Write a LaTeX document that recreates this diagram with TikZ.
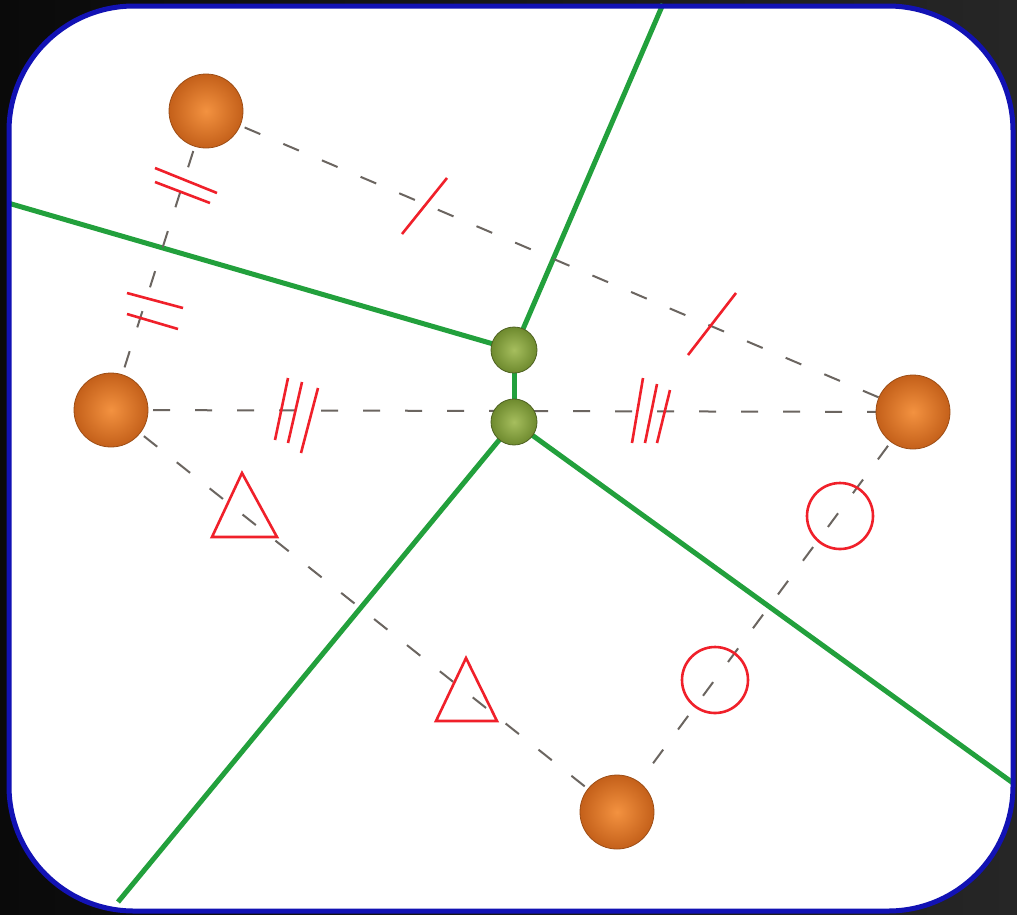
\documentclass[tikz,border=0pt]{standalone}
\usepackage{tikz}
\definecolor{bgL}{HTML}{0A0A0A}
\definecolor{bgR}{HTML}{262626}
\definecolor{frameblue}{HTML}{1212B4}
\definecolor{vgreen}{HTML}{22A03C}
\definecolor{dashgray}{HTML}{6B6560}
\definecolor{markred}{HTML}{F0202A}
\definecolor{orIn}{HTML}{F39240}
\definecolor{orOut}{HTML}{C4601A}
\definecolor{grIn}{HTML}{A6BE5E}
\definecolor{grOut}{HTML}{6E8A2E}
\tikzset{
  sphere/.style={circle, minimum size=74pt, inner sep=0pt, inner color=orIn, outer color=orOut, draw=orOut!80!black, line width=0.8pt},
  vdot/.style={circle, minimum size=46pt, inner sep=0pt, inner color=grIn, outer color=grOut, draw=grOut!70!black, line width=0.8pt},
  vedge/.style={vgreen, line width=5pt},
  dline/.style={dashgray, line width=2pt, dash pattern=on 17pt off 25pt},
  tick/.style={markred, line width=2.6pt},
  shapemark/.style={markred, line width=2.6pt}
}
\begin{document}
\begin{tikzpicture}[x=1pt,y=-1pt]
\useasboundingbox (0,0) rectangle (1017,914);
\shade[left color=bgL, right color=bgR] (0,0) rectangle (1017,914);
\fill[white, rounded corners=125pt] (9,6) rectangle (1013,911);
% points
\coordinate (tA) at (206,111);
\coordinate (tB) at (111,410);
\coordinate (tC) at (913,412);
\coordinate (tD) at (617,812);
\coordinate (g1) at (514,350);
\coordinate (g2) at (514,422);
\coordinate (eTop) at (663,4);
\coordinate (eLeft) at (8,203);
\coordinate (eBot) at (118,902);
\coordinate (eRight) at (1013,783);
% Voronoi edges
\draw[vedge] (g1) -- (eTop);
\draw[vedge] (g1) -- (eLeft);
\draw[vedge] (g1) -- (g2);
\draw[vedge] (g2) -- (eBot);
\draw[vedge] (g2) -- (eRight);
% dashed connections
\draw[dline] (tA) -- (tC);
\draw[dline] (tA) -- (tB);
\draw[dline] (tB) -- (tC);
\draw[dline] (tB) -- (tD);
\draw[dline] (tC) -- (tD);
% single ticks
\draw[tick] (402,234) -- (447,178);
\draw[tick] (688,355) -- (736,293);
% double ticks
\draw[tick] (155,168) -- (217,193);
\draw[tick] (155,182) -- (210,203);
\draw[tick] (127,293) -- (183,308);
\draw[tick] (127,314) -- (178,329);
% triple ticks
\draw[tick] (288,378) -- (275,440);
\draw[tick] (302,382) -- (288,443);
\draw[tick] (318,388) -- (301,453);
\draw[tick] (643,378) -- (632,443);
\draw[tick] (657,384) -- (645,443);
\draw[tick] (670,390) -- (657,443);
% triangles
\draw[shapemark, line join=miter] (242,473) -- (277,537) -- (212,537) -- cycle;
\draw[shapemark, line join=miter] (466,658) -- (497,721) -- (436,721) -- cycle;
% circles
\draw[shapemark] (840,516) circle[radius=33];
\draw[shapemark] (715,680) circle[radius=33];
% spheres
\node[sphere] (A) at (tA) {};
\node[sphere] (B) at (tB) {};
\node[sphere] (C) at (tC) {};
\node[sphere] (D) at (tD) {};
\node[vdot] (G1) at (g1) {};
\node[vdot] (G2) at (g2) {};
% frame
\draw[frameblue, line width=5pt, rounded corners=125pt] (9,6) rectangle (1013,911);
\end{tikzpicture}
\end{document}
